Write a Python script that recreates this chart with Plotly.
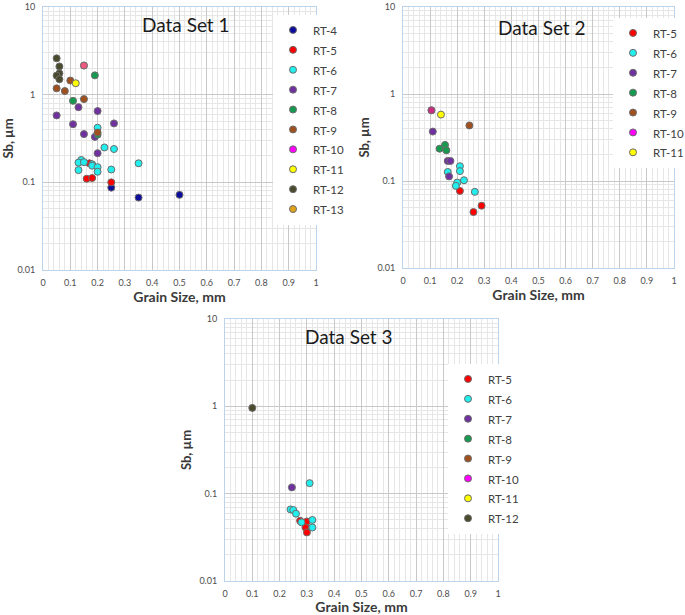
import plotly.graph_objects as go

# ---- Data Set 1 ----
ds1_rt4_x = [0.25, 0.35, 0.5]
ds1_rt4_y = [0.087, 0.067, 0.072]
ds1_rt5_x = [0.17, 0.16, 0.18, 0.25]
ds1_rt5_y = [0.165, 0.11, 0.112, 0.1]
ds1_rt6_x = [0.2, 0.225, 0.26, 0.14, 0.13, 0.15, 0.18, 0.18, 0.2, 0.35, 0.13, 0.25, 0.2]
ds1_rt6_y = [0.42, 0.25, 0.24, 0.18, 0.168, 0.17, 0.161, 0.155, 0.149, 0.165, 0.138, 0.14, 0.132]
ds1_rt7_x = [0.13, 0.2, 0.05, 0.26, 0.11, 0.15, 0.19, 0.2]
ds1_rt7_y = [0.72, 0.65, 0.58, 0.47, 0.46, 0.355, 0.33, 0.215]
ds1_rt8_x = [0.19, 0.11, 0.2]
ds1_rt8_y = [1.66, 0.85, 0.35]
ds1_rt9_x = [0.1, 0.05, 0.08, 0.15, 0.2]
ds1_rt9_y = [1.45, 1.18, 1.1, 0.89, 0.37]
ds1_rt10_x = [0.15]
ds1_rt10_y = [2.15]
ds1_rt11_x = [0.12]
ds1_rt11_y = [1.35]
ds1_rt12_x = [0.05, 0.06, 0.06, 0.05, 0.06]
ds1_rt12_y = [2.6, 2.1, 1.75, 1.65, 1.5]
ds1_rt13_x = [0.15]
ds1_rt13_y = [2.15]

# ---- Data Set 2 ----
ds2_rt5_x = [0.21, 0.29, 0.26]
ds2_rt5_y = [0.077, 0.052, 0.044]
ds2_rt6_x = [0.21, 0.165, 0.21, 0.225, 0.2, 0.195, 0.265]
ds2_rt6_y = [0.148, 0.127, 0.13, 0.102, 0.096, 0.088, 0.075]
ds2_rt7_x = [0.11, 0.165, 0.175, 0.17]
ds2_rt7_y = [0.37, 0.17, 0.17, 0.113]
ds2_rt8_x = [0.155, 0.135, 0.16]
ds2_rt8_y = [0.26, 0.235, 0.225]
ds2_rt9_x = [0.245, 0.105]
ds2_rt9_y = [0.435, 0.65]
ds2_rt10_x = [0.105]
ds2_rt10_y = [0.65]
ds2_rt11_x = [0.14]
ds2_rt11_y = [0.58]

# ---- Data Set 3 ----
ds3_rt5_x = [0.275, 0.3, 0.295, 0.3]
ds3_rt5_y = [0.049, 0.048, 0.041, 0.036]
ds3_rt6_x = [0.31, 0.24, 0.25, 0.26, 0.32, 0.28, 0.32]
ds3_rt6_y = [0.132, 0.066, 0.065, 0.059, 0.05, 0.047, 0.041]
ds3_rt7_x = [0.245]
ds3_rt7_y = [0.118]
ds3_rt12_x = [0.1]
ds3_rt12_y = [0.96]

colors = {'RT-4': '#0c0c9c', 'RT-5': '#ff0000', 'RT-6': '#22eeee', 'RT-7': '#7030a0',
          'RT-8': '#169a50', 'RT-9': '#a0501e', 'RT-10': '#ff00ff', 'RT-11': '#ffff00',
          'RT-12': '#4a4a2c', 'RT-13': '#e0a21a'}

panels = [
    ('', 'legend', [('RT-4', ds1_rt4_x, ds1_rt4_y), ('RT-5', ds1_rt5_x, ds1_rt5_y),
                    ('RT-6', ds1_rt6_x, ds1_rt6_y), ('RT-7', ds1_rt7_x, ds1_rt7_y),
                    ('RT-8', ds1_rt8_x, ds1_rt8_y), ('RT-9', ds1_rt9_x, ds1_rt9_y),
                    ('RT-10', ds1_rt10_x, ds1_rt10_y), ('RT-11', ds1_rt11_x, ds1_rt11_y),
                    ('RT-12', ds1_rt12_x, ds1_rt12_y), ('RT-13', ds1_rt13_x, ds1_rt13_y)]),
    ('2', 'legend2', [('RT-5', ds2_rt5_x, ds2_rt5_y), ('RT-6', ds2_rt6_x, ds2_rt6_y),
                      ('RT-7', ds2_rt7_x, ds2_rt7_y), ('RT-8', ds2_rt8_x, ds2_rt8_y),
                      ('RT-9', ds2_rt9_x, ds2_rt9_y), ('RT-10', ds2_rt10_x, ds2_rt10_y),
                      ('RT-11', ds2_rt11_x, ds2_rt11_y)]),
    ('3', 'legend3', [('RT-5', ds3_rt5_x, ds3_rt5_y), ('RT-6', ds3_rt6_x, ds3_rt6_y),
                      ('RT-7', ds3_rt7_x, ds3_rt7_y), ('RT-8', [], []), ('RT-9', [], []),
                      ('RT-10', [], []), ('RT-11', [], []), ('RT-12', ds3_rt12_x, ds3_rt12_y)]),
]

fig = go.Figure()
for ax, leg, series in panels:
    blends = []
    for name, xs, ys in series:
        if name == 'RT-10' and xs:
            # RT-10 sits on top of another point: keep the legend solid, draw the point see-through later
            blends.append((name, xs, ys))
            xs, ys = [], []
        if not xs:
            xs, ys = [None], [None]   # legend-only entry
        fig.add_trace(go.Scatter(x=xs, y=ys, mode='markers', legend=leg,
                                 name='<span style="font-size:11.5px">%s</span>' % name,
                                 xaxis='x' + ax, yaxis='y' + ax,
                                 marker=dict(color=colors[name], size=7,
                                             line=dict(color='#6b6b6b', width=1))))
    for name, xs, ys in blends:
        fig.add_trace(go.Scatter(x=xs, y=ys, mode='markers', name=name, showlegend=False,
                                 xaxis='x' + ax, yaxis='y' + ax,
                                 marker=dict(color=colors[name], size=7, opacity=0.45,
                                             line=dict(color='#6b6b6b', width=1))))

W, H = 685, 615
def px_x(p): return p / W
def px_y(p): return 1 - p / H

tick_font = dict(family='Lato, Open Sans, sans-serif', size=9, color='#4d4d4d')
title_font = dict(family='Lato, Open Sans, sans-serif', size=14, color='#3a3a3a')

def xaxis(left, right, anchor):
    return dict(domain=[px_x(left), px_x(right)], anchor=anchor, range=[0, 1], dtick=0.1,
                showgrid=True, gridcolor='#c8c8c8', gridwidth=1, zeroline=False,
                showline=True, linecolor='#bcd3ec', mirror=True, ticks='',
                tickfont=tick_font, automargin=False, ticklabelstandoff=4,
                minor=dict(dtick=0.02, showgrid=True, gridcolor='#e6e6e6'),
                title=dict(text='<b>Grain Size, mm</b>', font=title_font, standoff=2))

def yaxis(top, bottom, anchor):
    return dict(domain=[px_y(bottom), px_y(top)], anchor=anchor, type='log', range=[-2, 1],
                tickvals=[0.01, 0.1, 1, 10], ticktext=['0.01', '0.1', '1', '10'],
                showgrid=True, gridcolor='#c8c8c8', zeroline=False,
                showline=True, linecolor='#bcd3ec', mirror=True, ticks='',
                tickfont=tick_font, automargin=False, ticklabelstandoff=5,
                minor=dict(dtick='D1', showgrid=True, gridcolor='#e6e6e6'),
                title=dict(text='<b>Sb, µm</b>', font=dict(title_font, size=13), standoff=4))

legend_style = dict(bgcolor='white', borderwidth=0,
                    font=dict(family='Lato, Open Sans, sans-serif', size=13, color='#404040'),
                    xanchor='left', yanchor='top', tracegroupgap=0)

fig.update_layout(
    width=W, height=H, margin=dict(l=0, r=0, t=0, b=0, autoexpand=False),
    paper_bgcolor='white', plot_bgcolor='white',
    xaxis=xaxis(43, 316, 'y'), yaxis=yaxis(7, 270, 'x'),
    xaxis2=xaxis(403, 674, 'y2'), yaxis2=yaxis(7, 268, 'x2'),
    xaxis3=xaxis(225, 498, 'y3'), yaxis3=yaxis(319, 581, 'x3'),
    legend=dict(legend_style, x=px_x(273), y=px_y(15)),
    legend2=dict(legend_style, x=px_x(613), y=px_y(18)),
    legend3=dict(legend_style, x=px_x(448), y=px_y(364)),
    showlegend=True,
)

for text, cx, cy in [('Data Set 1', 186, 24), ('Data Set 2', 542, 27), ('Data Set 3', 349, 336)]:
    fig.add_annotation(text=text, x=px_x(cx), y=px_y(cy), xref='paper', yref='paper',
                       showarrow=False, xanchor='center', yanchor='middle',
                       font=dict(family='Lato, Open Sans, sans-serif', size=19, color='#1a1a1a'))

# the page body has a default 8px margin; drop it so the 685x615 figure fills the window
fig.write_html("out.html", config={'displayModeBar': False},
               post_script="document.body.style.margin = '0';")
